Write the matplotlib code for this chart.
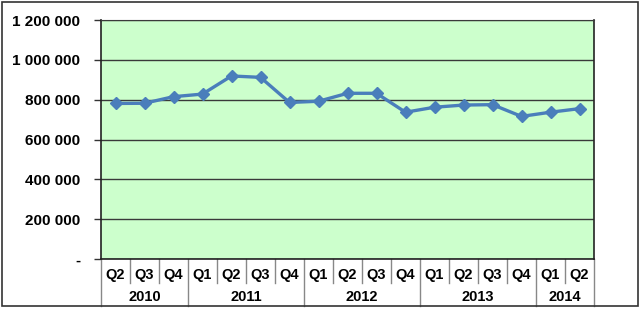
import matplotlib
matplotlib.use("Agg")
from matplotlib import pyplot as plt
from matplotlib.patches import Rectangle
import matplotlib.transforms as mtransforms
import numpy as np

plt.rcParams['font.family'] = ['Liberation Sans', 'DejaVu Sans']

quarters = ['Q2', 'Q3', 'Q4',
            'Q1', 'Q2', 'Q3', 'Q4',
            'Q1', 'Q2', 'Q3', 'Q4',
            'Q1', 'Q2', 'Q3', 'Q4',
            'Q1', 'Q2']
years = ['2010', '2011', '2012', '2013', '2014']
quarters_per_year = [3, 4, 4, 4, 2]
values = [781000, 782000, 815000, 828000, 919000, 912000, 786000,
          792000, 832000, 832000, 737000, 762000, 773000, 775000,
          716000, 737000, 755000]
yticks = [0, 200000, 400000, 600000, 800000, 1000000, 1200000]

fig = plt.figure(figsize=(6.4, 3.1), dpi=100)
ax = fig.add_axes([101/640, 1 - 259/310, 493/640, 239/310])

x = np.arange(len(values))
ax.plot(x, values, color='#4a7ebb', lw=2.4, marker='D', ms=6.5,
        mfc='#4a7ebb', mec='#4a7ebb', zorder=3)

ax.set_facecolor('#ccffcc')
ax.set_xlim(-0.5, len(values) - 0.5)
ax.set_ylim(0, 1200000)
ax.set_yticks(yticks)
ax.set_yticklabels(['-' if v == 0 else f'{v:,}'.replace(',', ' ') for v in yticks],
                   fontsize=11, fontweight='bold')
ax.tick_params(axis='y', direction='out', length=5, width=1, color='#333333', pad=10)
ax.set_xticks([])
ax.grid(axis='y', color='#3a3a3a', lw=1)
ax.set_axisbelow(True)
for s in ['left', 'right', 'bottom']:
    ax.spines[s].set_color('#222222')
    ax.spines[s].set_linewidth(1.2)
ax.spines['top'].set_color('#3a3a3a')

# two-level category axis
trans = mtransforms.blended_transform_factory(ax.transData, ax.transAxes)
q_bot = -24 / 239
y_bot = -47 / 239
for i, q in enumerate(quarters):
    ax.text(i, -16 / 239, q, transform=trans, ha='center', va='center',
            fontsize=10.5, fontweight='bold')
bounds = np.cumsum([0] + quarters_per_year) - 0.5
for b in np.arange(len(values) + 1) - 0.5:
    bottom = y_bot if b in bounds else q_bot
    ax.plot([b, b], [0, bottom], transform=trans, color='#888888', lw=1,
            clip_on=False)
for yr, a, c in zip(years, bounds[:-1], bounds[1:]):
    ax.text((a + c) / 2, -38 / 239, yr, transform=trans, ha='center',
            va='center', fontsize=10.5, fontweight='bold')

# outer frame
fig.patches.append(Rectangle((2/640, 4/310), 636/640, 304/310, transform=fig.transFigure,
                             fill=False, edgecolor='#333333', lw=1.2))

fig.savefig('out.png', dpi=100)
